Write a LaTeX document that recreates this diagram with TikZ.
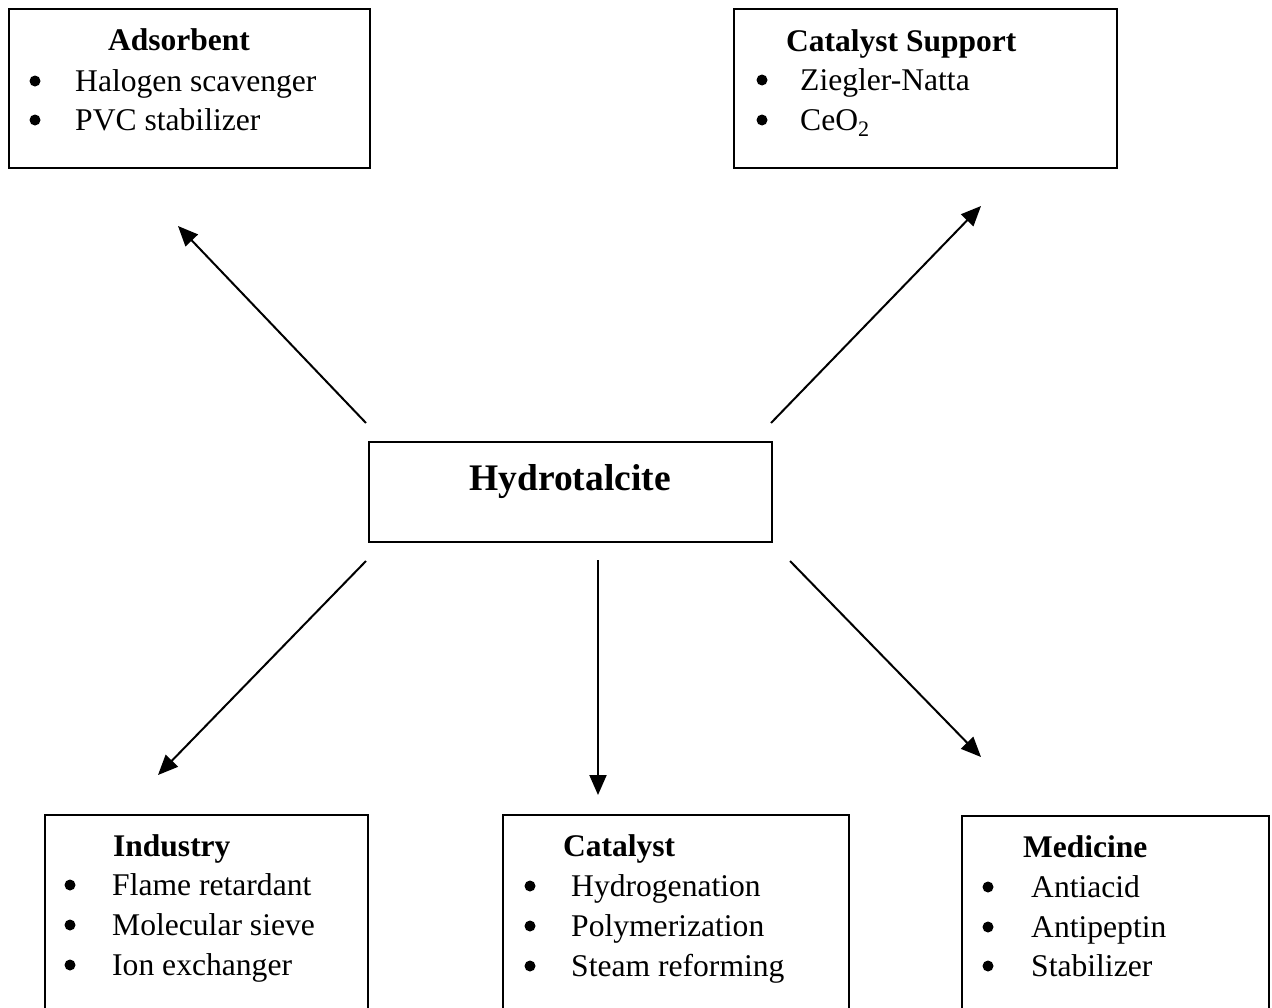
\documentclass[tikz,border=0pt]{standalone}
\usepackage{fontspec}
\setmainfont{Liberation Serif}
\usetikzlibrary{arrows.meta}
\begin{document}
\begin{tikzpicture}[x=1pt,y=-1pt,
  box/.style={draw, line width=2pt, inner sep=0pt, anchor=north west},
  ttl/.style={anchor=base west, inner sep=0pt, font=\fontsize{31.5}{36}\selectfont\bfseries},
  itm/.style={anchor=base west, inner sep=0pt, font=\fontsize{31.6}{36}\selectfont},
  bul/.style={circle, fill=black, inner sep=0pt, minimum size=11pt},
  arr/.style={line width=2pt, -{Triangle[length=20pt,width=17pt]}}]
\useasboundingbox (0,0) rectangle (1272,1007);
\fill[white] (0,0) rectangle (1272,1007);
\clip (0,0) rectangle (1272,1007);
% boxes
\node[box, minimum width=361pt, minimum height=159pt] (ads) at (8,8) {};
\node[box, minimum width=383pt, minimum height=159pt] (cs) at (733,8) {};
\node[box, minimum width=403pt, minimum height=100pt] (hyd) at (368,441) {};
\node[box, minimum width=323pt, minimum height=230pt] (ind) at (44,814) {};
\node[box, minimum width=346pt, minimum height=230pt] (cat) at (502,814) {};
\node[box, minimum width=307pt, minimum height=230pt] (med) at (961,815) {};
% Adsorbent
\node[ttl] (adsT) at (108,50) {Adsorbent};
\node[bul] (adsB1) at (35,81) {};
\node[itm] (adsI1) at (75,91) {Halogen scavenger};
\node[bul] (adsB2) at (35,120) {};
\node[itm] (adsI2) at (75,130) {PVC stabilizer};
% Catalyst Support
\node[ttl] (csT) at (786,51) {Catalyst Support};
\node[bul] (csB1) at (762,80) {};
\node[itm] (csI1) at (800,90) {Ziegler-Natta};
\node[bul] (csB2) at (762,120) {};
\node[itm] (csI2) at (800,130) {CeO\textsubscript{2}};
% Hydrotalcite
\node[anchor=base, inner sep=0pt, font=\fontsize{37.5}{40}\selectfont\bfseries] (hydT) at (570,490) {Hydrotalcite};
% Industry
\node[ttl] (indT) at (113,856) {Industry};
\node[bul] (indB1) at (70,885) {};
\node[itm] (indI1) at (112,895) {Flame retardant};
\node[bul] (indB2) at (70,925) {};
\node[itm] (indI2) at (112,935) {Molecular sieve};
\node[bul] (indB3) at (70,965) {};
\node[itm] (indI3) at (112,975) {Ion exchanger};
% Catalyst
\node[ttl] (catT) at (563,856) {Catalyst};
\node[bul] (catB1) at (530,886) {};
\node[itm] (catI1) at (571,896) {Hydrogenation};
\node[bul] (catB2) at (530,926) {};
\node[itm] (catI2) at (571,936) {Polymerization};
\node[bul] (catB3) at (530,966) {};
\node[itm] (catI3) at (571,976) {Steam reforming};
% Medicine
\node[ttl] (medT) at (1023,857) {Medicine};
\node[bul] (medB1) at (988,887) {};
\node[itm] (medI1) at (1031,897) {Antiacid};
\node[bul] (medB2) at (988,927) {};
\node[itm] (medI2) at (1031,937) {Antipeptin};
\node[bul] (medB3) at (988,966) {};
\node[itm] (medI3) at (1031,976) {Stabilizer};
% arrow endpoints
\coordinate (a1s) at (366,423); \coordinate (a1e) at (178,226);
\coordinate (a2s) at (771,423); \coordinate (a2e) at (981,206);
\coordinate (a3s) at (366,561); \coordinate (a3e) at (158,775);
\coordinate (a4s) at (598,560); \coordinate (a4e) at (598,795);
\coordinate (a5s) at (790,561); \coordinate (a5e) at (981,757);
\draw[arr] (a1s) -- (a1e);
\draw[arr] (a2s) -- (a2e);
\draw[arr] (a3s) -- (a3e);
\draw[arr] (a4s) -- (a4e);
\draw[arr] (a5s) -- (a5e);
\end{tikzpicture}
\end{document}
